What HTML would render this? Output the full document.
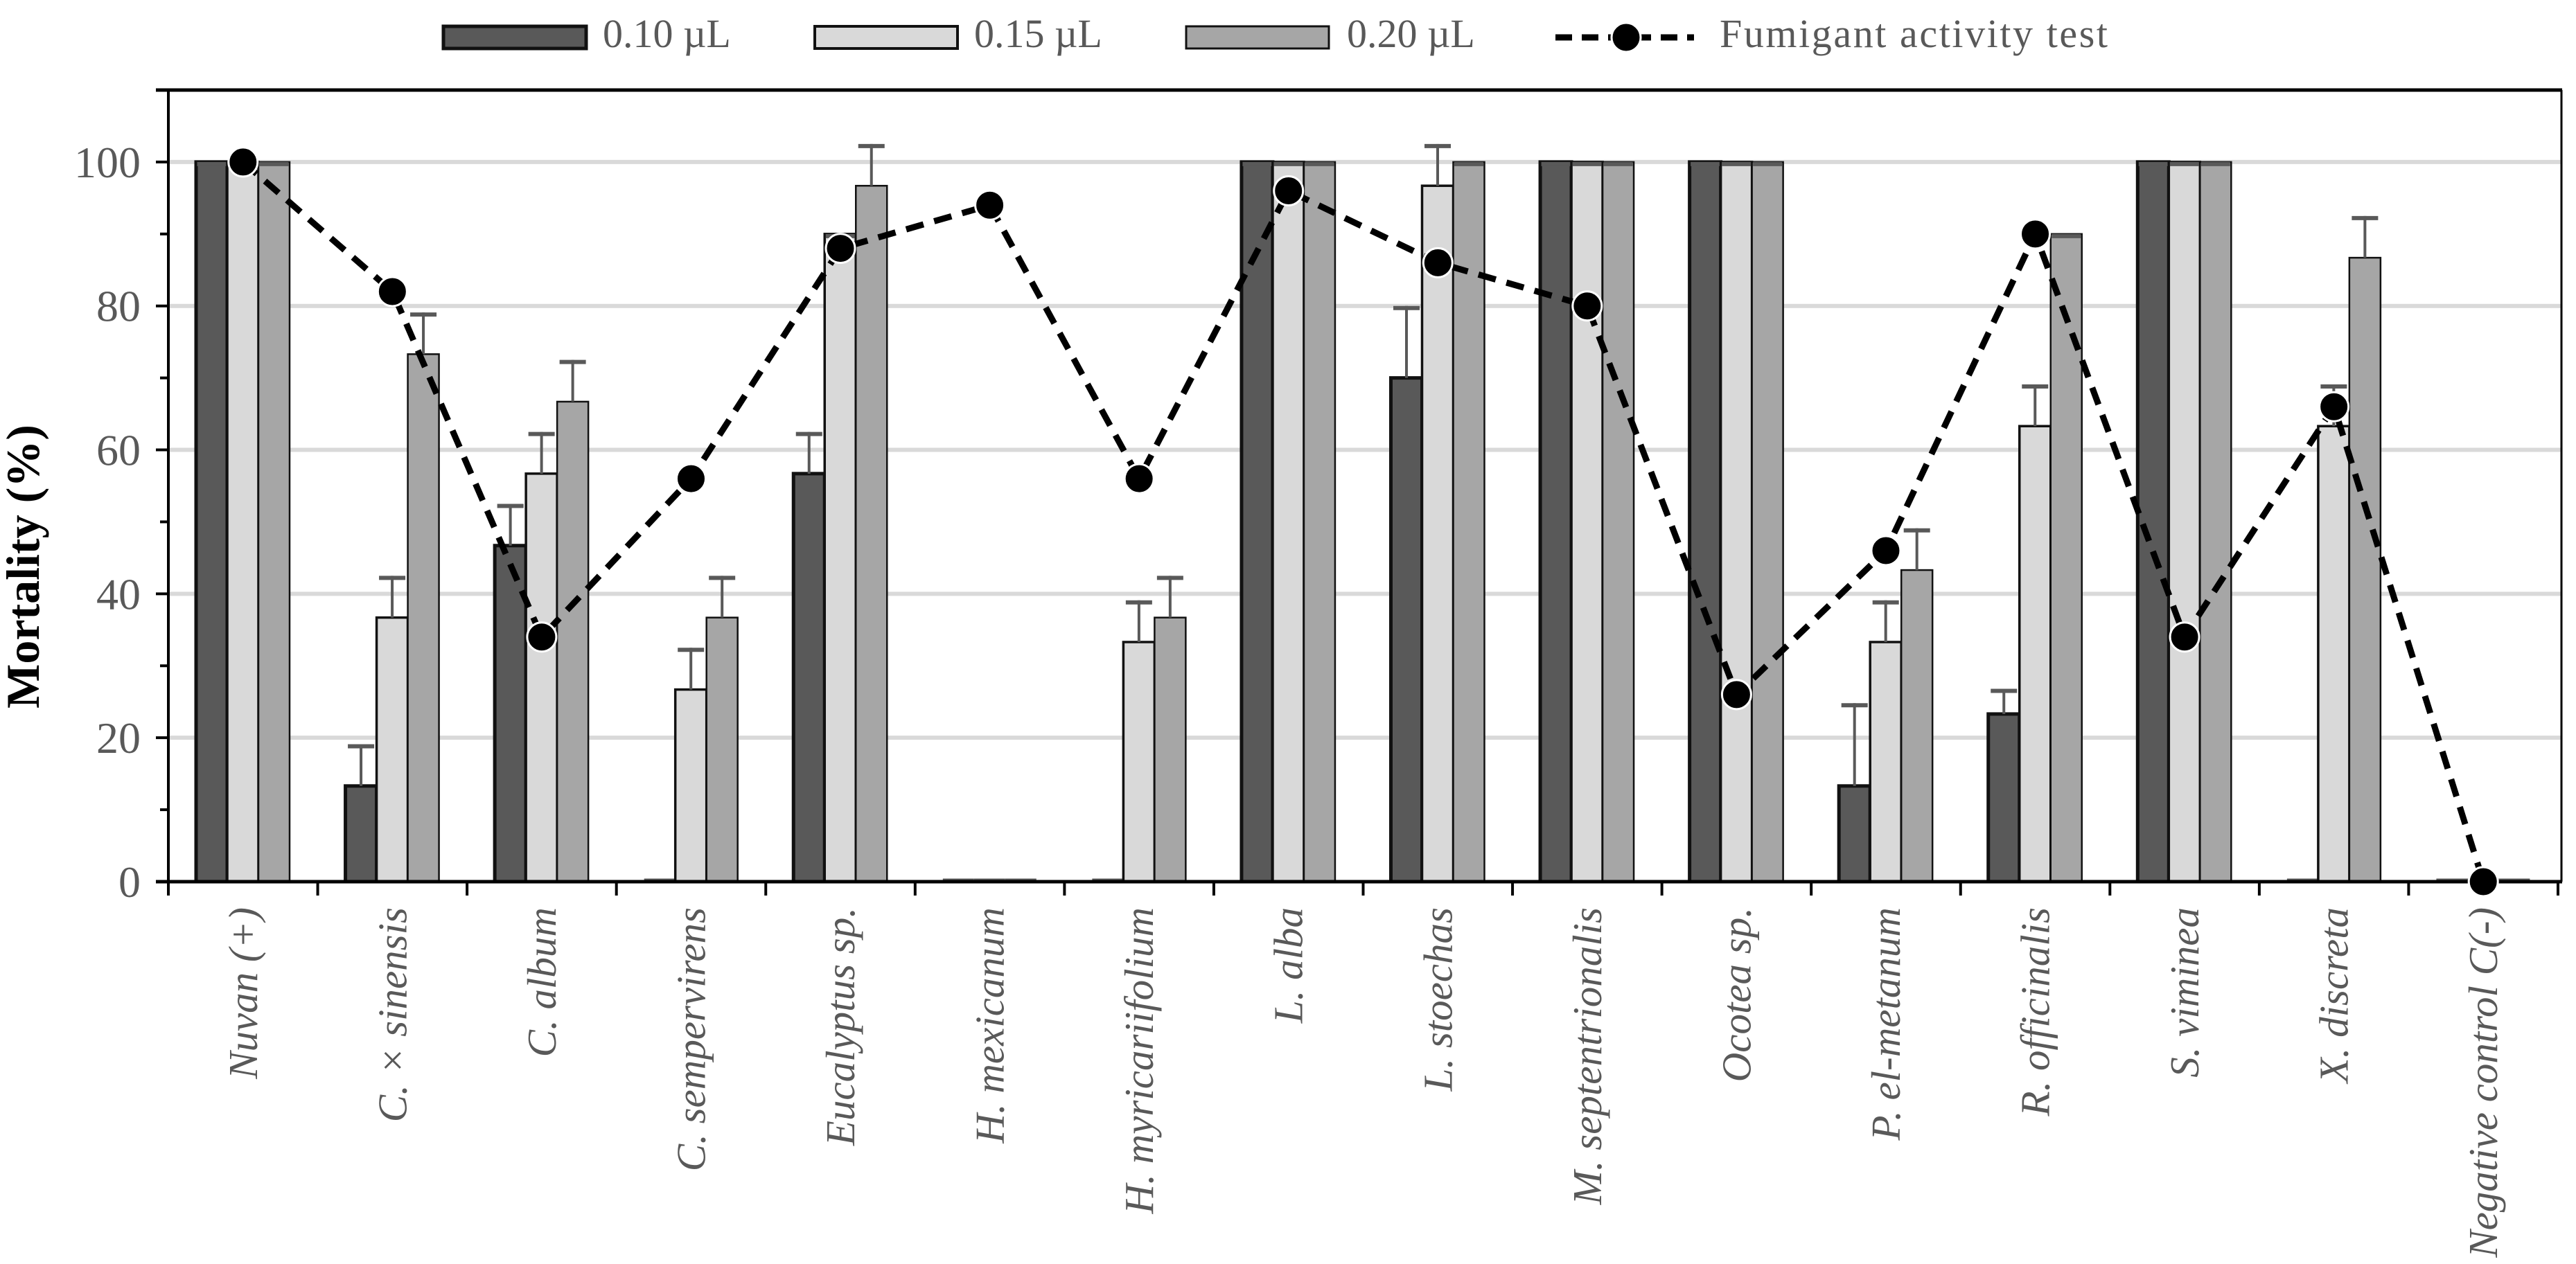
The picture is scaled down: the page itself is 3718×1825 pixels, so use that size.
<!DOCTYPE html>
<html><head><meta charset="utf-8"><style>
html,body{margin:0;padding:0;background:#fff}
svg{display:block}
text{font-family:"Liberation Serif",serif}
</style></head><body>
<svg id="chart" width="3718" height="1825" viewBox="0 0 3718 1825" xmlns="http://www.w3.org/2000/svg">
<g id="grid"></g>
<g id="bars"></g>
<g id="axes"></g>
<g id="line"></g>
<g id="xlabels"></g>
<text x="0" y="0" transform="translate(56,818) rotate(-90)" text-anchor="middle" font-weight="bold" font-size="68" fill="#000">Mortality (%)</text>
<g>
  <rect x="640" y="38" width="206" height="32" fill="#595959" stroke="#111" stroke-width="5"/>
  <text x="870" y="68" font-size="58" fill="#595959">0.10 µL</text>
  <rect x="1176" y="38" width="206" height="32" fill="#d9d9d9" stroke="#111" stroke-width="4"/>
  <text x="1406" y="68" font-size="58" fill="#595959">0.15 µL</text>
  <rect x="1712" y="38" width="206" height="32" fill="#a6a6a6" stroke="#111" stroke-width="3"/>
  <text x="1944" y="68" font-size="58" fill="#595959">0.20 µL</text>
  <line x1="2245" y1="54" x2="2445" y2="54" stroke="#000" stroke-width="9" stroke-dasharray="24,14"/>
  <circle cx="2347" cy="54" r="21" fill="#000" stroke="#fff" stroke-width="3"/>
  <text x="2482" y="68" font-size="58" fill="#595959" textLength="560">Fumigant activity test</text>
</g>
</svg>
<script>
const categories = ["Nuvan (+)","C. × sinensis","C. album","C. sempervirens","Eucalyptus sp.","H. mexicanum","H. myricariifolium","L. alba","L. stoechas","M. septentrionalis","Ocotea sp.","P. el-metanum","R. officinalis","S. viminea","X. discreta","Negative control C(-)"];
const dose010 = [100,13.3,46.7,0,56.7,0,0,100,70,100,100,13.3,23.3,100,0,0];
const dose015 = [100,36.7,56.7,26.7,90,0,33.3,100,96.7,100,100,33.3,63.3,100,63.3,0];
const dose020 = [100,73.3,66.7,36.7,96.7,0,36.7,100,100,100,100,43.3,90,100,86.7,0];
const err010 = [0,5.8,5.8,0,5.8,0,0,0,10,0,0,11.5,3.5,0,0,0];
const err015 = [0,5.8,5.8,5.8,0,0,5.8,0,5.8,0,0,5.8,5.8,0,5.8,0];
const err020 = [0,5.8,5.8,5.8,5.8,0,5.8,0,0,0,0,5.8,0,0,5.8,0];
const fumigant = [100,82,34,56,88,94,56,96,86,80,26,46,90,34,66,0];
const yTicks = [0,20,40,60,80,100];

const NS="http://www.w3.org/2000/svg";
const L=243,R=3692,T=130,B=1273,YMAX=110;
const cw=(R-L)/categories.length;
function y(v){return B-(v/YMAX)*(B-T);}
function xc(i){return L+cw*(i+0.5);}
function mk(tag,attrs,parent){const e=document.createElementNS(NS,tag);for(const k in attrs)e.setAttribute(k,attrs[k]);parent.appendChild(e);return e;}
const grid=document.getElementById('grid'),bars=document.getElementById('bars'),axes=document.getElementById('axes'),line=document.getElementById('line'),xl=document.getElementById('xlabels');

yTicks.forEach(t=>{
  if(t>0){const g=mk('line',{x1:L,x2:R+5,y1:y(t),y2:y(t),stroke:'#d9d9d9','stroke-width':6},grid);
  
  }
  const tx=mk('text',{x:L-40,y:y(t)+22,'text-anchor':'end','font-size':64,fill:'#595959'},axes);
  tx.textContent=t;
  
  
});
for(let v=0;v<=YMAX;v+=10){
  const tk=mk('line',{x1:L-(v%20===0?18:12),x2:L,y1:y(v),y2:y(v),stroke:'#000','stroke-width':4},axes);
  
  
}
const series=[{d:dose010,e:err010,fill:'#595959',sw:5,n:'010'},{d:dose015,e:err015,fill:'#d9d9d9',sw:3.5,n:'015'},{d:dose020,e:err020,fill:'#a6a6a6',sw:2.5,n:'020'}];
const bw=45;
categories.forEach((c,i)=>{
  const cl=L+cw*i;
  series.forEach((s,k)=>{
    const x0=cl+40+k*bw, v=s.d[i];
    if(v>0){
      const r=mk('rect',{x:x0,y:y(v),width:bw,height:B-y(v),fill:s.fill,stroke:'#111','stroke-width':s.sw},bars);
      
      
      const top=y(v+s.e[i]);
      const el=mk('line',{x1:x0+bw/2,x2:x0+bw/2,y1:y(v),y2:top,stroke:'#595959','stroke-width':4},bars);
      
      
      const cap=mk('line',{x1:x0+bw/2-(s.e[i]>0?19:21),x2:x0+bw/2+(s.e[i]>0?19:21),y1:top+3,y2:top+3,stroke:'#595959','stroke-width':6},bars);
      
      
    } else {
      const z=mk('line',{x1:x0,x2:x0+bw,y1:B-3,y2:B-3,stroke:'#595959','stroke-width':3},bars);
      
      
    }
  });
  const tk=mk('line',{x1:L+cw*(i+1),x2:L+cw*(i+1),y1:B,y2:B+20,stroke:'#000','stroke-width':4},axes);
  
  
  const t=mk('text',{x:0,y:0,transform:`translate(${xc(i)+20},1310) rotate(-90)`,'text-anchor':'end','font-size':59,'font-style':'italic',fill:'#595959'},xl);
  t.textContent=c;
  
  
});
const ax1=mk('line',{x1:L,x2:L,y1:T,y2:B+20,stroke:'#000','stroke-width':4},axes);


const ax2=mk('line',{x1:L-18,x2:R+6,y1:B,y2:B,stroke:'#000','stroke-width':5},axes);


const ax3=mk('line',{x1:L-18,x2:R+6,y1:T,y2:T,stroke:'#000','stroke-width':5},axes);


const ax4=mk('line',{x1:R+5,x2:R+5,y1:T,y2:B,stroke:'#000','stroke-width':3},axes);



const pts=fumigant.map((v,i)=>xc(i)+','+y(v)).join(' ');
const pl=mk('polyline',{points:pts,fill:'none',stroke:'#000','stroke-width':9,'stroke-dasharray':'26,16'},line);


fumigant.forEach((v,i)=>{
  const c=mk('circle',{cx:xc(i),cy:y(v),r:21,fill:'#000',stroke:'#fff','stroke-width':3},line);
  
  
});
</script>
</body></html>
